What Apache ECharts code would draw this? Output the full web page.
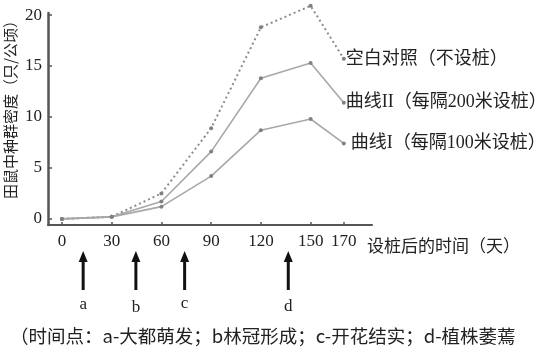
<!DOCTYPE html>
<html>
<head>
<meta charset="utf-8">
<script src="https://cdn.jsdelivr.net/npm/echarts@6/dist/echarts.min.js"></script>
<style>html,body{margin:0;padding:0;background:#fff}#c{width:554px;height:357px}</style>
</head>
<body>
<div id="c"></div>
<script>
// ---- data ----
var days = [0, 30, 60, 90, 120, 150, 170];
var xTickLabels = [0, 30, 60, 90, 120, 150, 170];
var yTickLabels = [0, 5, 10, 15, 20];
var controlName = '空白对照（不设桩）';
var curve2Name = '曲线II（每隔200米设桩）';
var curve1Name = '曲线I（每隔100米设桩）';
var controlValues = [0, 0.2, 2.5, 8.9, 18.8, 20.9, 15.7];
var curve2Values = [0, 0.2, 1.7, 6.6, 13.8, 15.3, 11.4];
var curve1Values = [0, 0.2, 1.2, 4.2, 8.7, 9.8, 7.4];
var arrowDays = [12.8, 44.6, 74, 136.5];
var arrowLetters = ['a', 'b', 'c', 'd'];
var yTitle = '田鼠中种群密度（只/公顷）';
var xTitle = '设桩后的时间（天）';
var footnote = '（时间点：a-大都萌发；b林冠形成；c-开花结实；d-植株萎蔫';

function pairs(vals) { return days.map(function (d, i) { return [d, vals[i]]; }); }

var cjk = '"Noto Sans CJK SC", sans-serif';
var serifMix = '"Liberation Serif", "Noto Sans CJK SC", serif';
var textColor = '#222';

var chart = echarts.init(document.getElementById('c'), null, { renderer: 'canvas' });

function lineSeries(name, vals, dotted, labelDist) {
  return {
    type: 'line',
    name: name,
    data: pairs(vals),
    clip: false,
    symbol: 'circle',
    symbolSize: 4,
    itemStyle: { color: '#808080' },
    lineStyle: { color: dotted ? '#8c8c8c' : '#a8a8a8', width: dotted ? 2 : 1.6, type: dotted ? [2, 3] : 'solid' },
    emphasis: { disabled: true },
    animation: false,
    endLabel: {
      show: true,
      formatter: name,
      distance: labelDist,
      color: textColor,
      fontSize: 18,
      fontFamily: serifMix
    }
  };
}

var option = {
  animation: false,
  grid: { left: 48, right: 182, top: 13, bottom: 132, containLabel: false, outerBoundsMode: 'none' },
  xAxis: {
    type: 'value',
    min: -8.4,
    max: 187,
    name: xTitle,
    nameLocation: 'end',
    nameGap: -5,
    nameMoveOverlap: false,
    nameTextStyle: { color: textColor, fontSize: 17, fontFamily: cjk, align: 'left', verticalAlign: 'top', padding: [12, 0, 0, 0] },
    axisLine: { onZero: false, lineStyle: { color: '#555', width: 2.2 } },
    axisTick: { show: true, inside: true, length: 3, customValues: xTickLabels, lineStyle: { color: '#555', width: 1.5 } },
    axisLabel: { customValues: xTickLabels, color: textColor, fontSize: 17, fontFamily: '"Liberation Serif", serif', margin: 8 },
    splitLine: { show: false }
  },
  yAxis: {
    type: 'value',
    min: -0.6,
    max: 20.2,
    name: yTitle,
    nameLocation: 'middle',
    nameRotate: 90,
    nameGap: 30,
    nameMoveOverlap: false,
    nameTextStyle: { color: textColor, fontSize: 15, fontFamily: cjk, padding: [0, 0, 0, 26] },
    axisLine: { show: true, onZero: false, lineStyle: { color: '#555', width: 2.5 } },
    axisTick: { show: true, inside: true, length: 4, customValues: yTickLabels, lineStyle: { color: '#555', width: 1.5 } },
    axisLabel: { customValues: yTickLabels, color: textColor, fontSize: 17, fontFamily: '"Liberation Serif", serif', margin: 6 },
    splitLine: { show: false }
  },
  series: [
    lineSeries(controlName, controlValues, true, 2),
    lineSeries(curve2Name, curve2Values, false, 2),
    lineSeries(curve1Name, curve1Values, false, 7)
  ]
};
chart.setOption(option);

// annotation arrows placed through the x scale
var graphics = [];
arrowDays.forEach(function (d, i) {
  var x = chart.convertToPixel({ xAxisIndex: 0 }, d);
  graphics.push({
    type: 'line', silent: true,
    shape: { x1: x, y1: 260, x2: x, y2: 290 },
    style: { stroke: '#111', lineWidth: 3 }
  });
  graphics.push({
    type: 'polygon', silent: true,
    shape: { points: [[x, 251], [x - 4.5, 262], [x + 4.5, 262]] },
    style: { fill: '#111' }
  });
  graphics.push({
    type: 'text', silent: true,
    style: {
      x: x, y: [305, 308, 304, 307][i], text: arrowLetters[i],
      fill: textColor, font: '17px "Liberation Serif", serif',
      align: 'center', verticalAlign: 'middle'
    }
  });
});
graphics.push({
  type: 'text', silent: true,
  style: {
    x: 10, y: 336, text: footnote,
    fill: textColor, font: '18.5px ' + cjk,
    align: 'left', verticalAlign: 'middle'
  }
});
chart.setOption({ graphic: graphics });
</script>
</body>
</html>
